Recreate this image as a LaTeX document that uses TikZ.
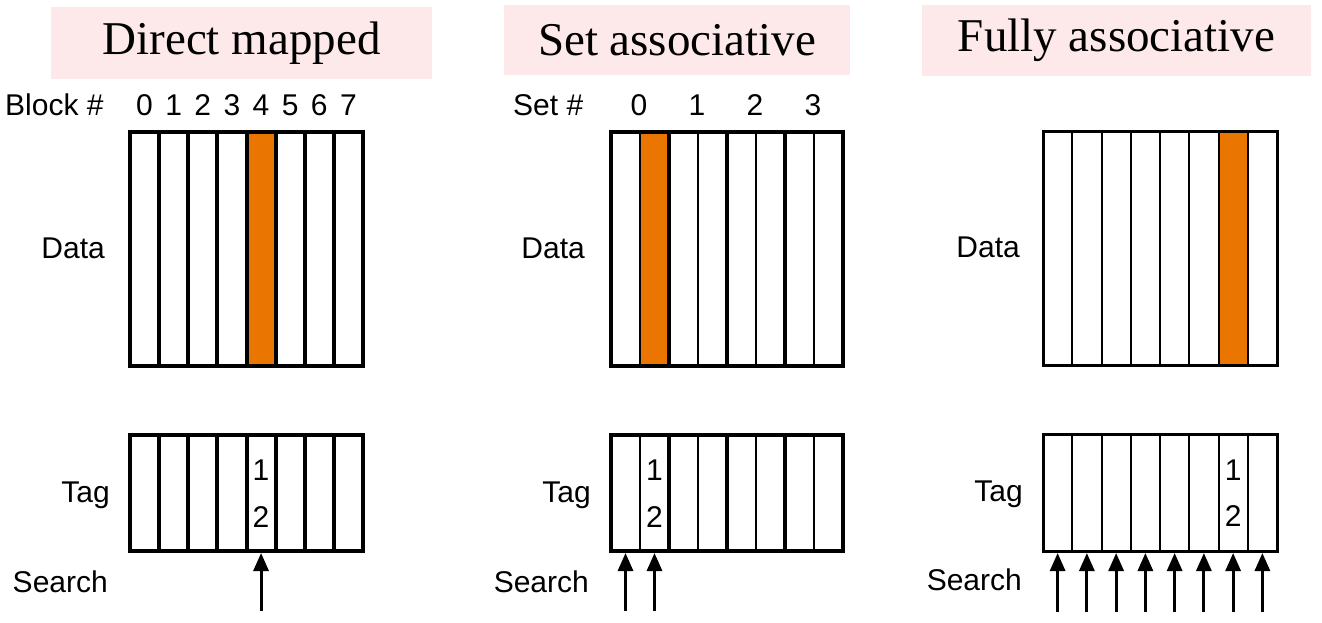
\documentclass[tikz,border=0pt]{standalone}
\usepackage{fontspec}
\setmainfont{Liberation Serif}
\newfontfamily\arialf{Liberation Sans}
\usetikzlibrary{arrows.meta}
\definecolor{titlepink}{HTML}{FDE9E9}
\definecolor{hitorange}{HTML}{EA7500}
\tikzset{
  titlebox/.style={fill=titlepink,inner sep=0pt,font=\fontsize{47}{50}\selectfont},
  lbl/.style={font=\arialf\fontsize{30}{32}\selectfont,inner sep=0pt},
  thickln/.style={line width=4pt},
  thinln/.style={line width=2pt},
  searcharrow/.style={line width=3pt,-{Triangle[width=15pt,length=18pt]}},
}
\begin{document}
\begin{tikzpicture}[x=1pt,y=-1pt]
\useasboundingbox (0,0) rectangle (1322,623);
% titles
\node[titlebox,minimum width=381pt,minimum height=72pt] (t1) at (241.5,43) {Direct mapped};
\node[titlebox,minimum width=346pt,minimum height=70pt] (t2) at (677,40) {Set associative};
\node[titlebox,minimum width=389pt,minimum height=71pt] (t3) at (1116.5,40.5) {Fully associative};

% ---------- Direct mapped ----------
\def\wa{29.125}
\node[lbl,anchor=west] (blk) at (5,105) {Block \#};
\foreach \i in {0,...,7}{
  \node[lbl] (dm\i) at ({130+\wa*(\i+0.5)},105) {\i};
}
\fill[hitorange] ({130+\wa*4},132) rectangle ({130+\wa*5},366);
\foreach \i in {1,...,7}{
  \draw[thickln] ({130+\wa*\i},132) -- ({130+\wa*\i},366);
  \draw[thickln] ({130+\wa*\i},435) -- ({130+\wa*\i},551);
}
\draw[thickln] (130,132) rectangle (363,366);
\draw[thickln] (130,435) rectangle (363,551);
\node[lbl,anchor=east] (dmdata) at (105,248) {Data};
\node[lbl,anchor=east] (dmtag) at (110,495) {Tag};
\node[lbl,anchor=east] (dmsearch) at (108,582) {Search};
\node[lbl] (dmt1) at ({130+\wa*4.5},470) {1};
\node[lbl] (dmt2) at ({130+\wa*4.5},517) {2};
\coordinate (dmsrc) at ({130+\wa*4.5},611);
\coordinate (dmdst) at ({130+\wa*4.5},553);
\draw[searcharrow] (dmsrc) -- (dmdst);

% ---------- Set associative ----------
\def\wb{29}
\node[lbl,anchor=west] (setl) at (513,105) {Set \#};
\foreach \i in {0,...,3}{
  \node[lbl] (sa\i) at ({611+\wb*(2*\i+1)-1},105) {\i};
}
\fill[hitorange] ({611+\wb},132) rectangle ({611+\wb*2},366);
\foreach \i in {1,3,5,7}{
  \draw[thinln] ({611+\wb*\i},132) -- ({611+\wb*\i},366);
  \draw[thinln] ({611+\wb*\i},435) -- ({611+\wb*\i},551);
}
\foreach \i in {2,4,6}{
  \draw[thickln] ({611+\wb*\i},132) -- ({611+\wb*\i},366);
  \draw[thickln] ({611+\wb*\i},435) -- ({611+\wb*\i},551);
}
\draw[thickln] (611,132) rectangle (843,366);
\draw[thickln] (611,435) rectangle (843,551);
\node[lbl,anchor=east] (sadata) at (585,248) {Data};
\node[lbl,anchor=east] (satag) at (591,495) {Tag};
\node[lbl,anchor=east] (sasearch) at (589,582) {Search};
\node[lbl] (sat1) at ({611+\wb*1.5},470) {1};
\node[lbl] (sat2) at ({611+\wb*1.5},517) {2};
\foreach \i in {0,1}{
  \coordinate (sasrc\i) at ({611+\wb*(\i+0.5)},611);
  \coordinate (sadst\i) at ({611+\wb*(\i+0.5)},553);
  \draw[searcharrow] (sasrc\i) -- (sadst\i);
}

% ---------- Fully associative ----------
\def\wc{29.25}
\fill[hitorange] ({1043+\wc*6},132) rectangle ({1043+\wc*7},365);
\foreach \i in {1,...,7}{
  \draw[thinln] ({1043+\wc*\i},132) -- ({1043+\wc*\i},365);
  \draw[thinln] ({1043+\wc*\i},434) -- ({1043+\wc*\i},551);
}
\draw[line width=3pt] (1043,132) rectangle (1277,365);
\draw[line width=3pt] (1043,434) rectangle (1277,551);
\node[lbl,anchor=east] (fadata) at (1020,247) {Data};
\node[lbl,anchor=east] (fatag) at (1023,494) {Tag};
\node[lbl,anchor=east] (fasearch) at (1022,580) {Search};
\node[lbl] (fat1) at ({1043+\wc*6.5},470) {1};
\node[lbl] (fat2) at ({1043+\wc*6.5},516) {2};
\foreach \i in {0,...,7}{
  \coordinate (fasrc\i) at ({1043+\wc*(\i+0.5)},612);
  \coordinate (fadst\i) at ({1043+\wc*(\i+0.5)},553);
  \draw[searcharrow] (fasrc\i) -- (fadst\i);
}
\end{tikzpicture}
\end{document}
